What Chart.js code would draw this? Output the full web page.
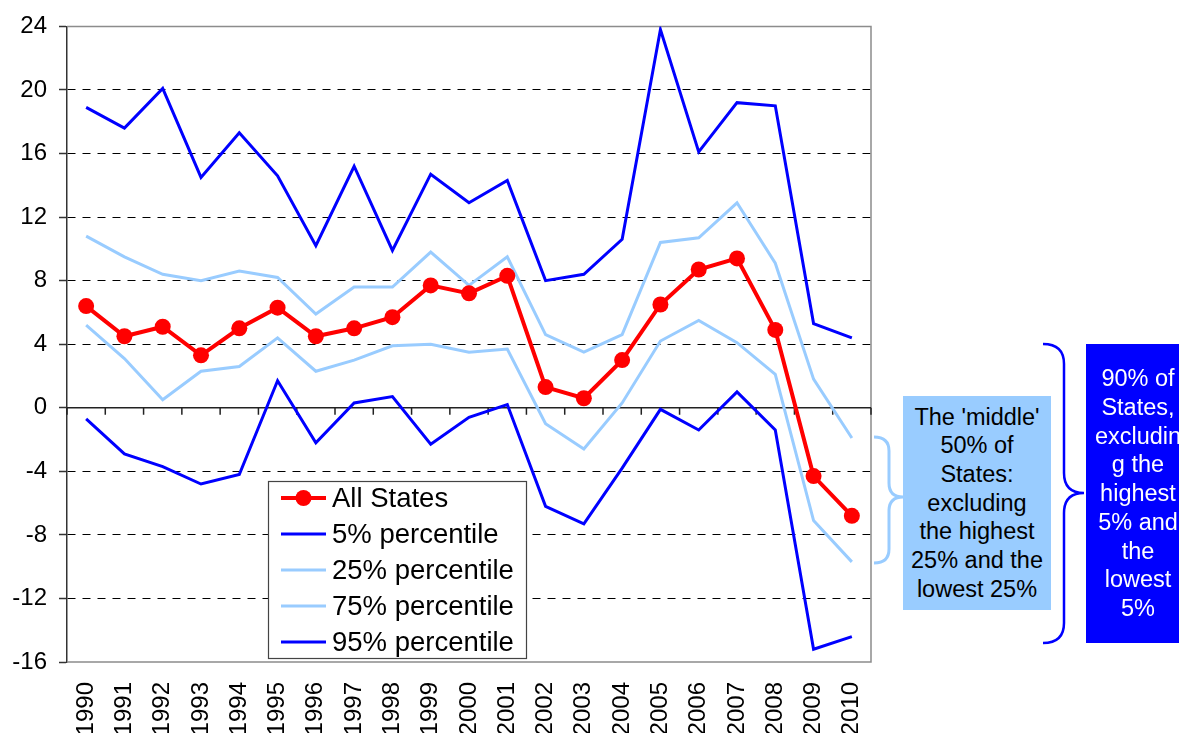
<!DOCTYPE html>
<html>
<head>
<meta charset="utf-8">
<script src="https://cdn.jsdelivr.net/npm/chart.js@4.4.0/dist/chart.umd.min.js"></script>
<style>
html,body{margin:0;padding:0;background:#fff;overflow:hidden;}
#wrap{position:relative;width:1179px;height:733px;overflow:hidden;}
#c{position:absolute;left:0;top:0;}
#braces{position:absolute;left:0;top:0;pointer-events:none;}
.note{position:absolute;display:flex;flex-direction:column;justify-content:center;align-items:center;text-align:center;
  font-family:"Liberation Sans",Arial,sans-serif;font-size:23.5px;line-height:28.7px;white-space:nowrap;overflow:hidden;}
</style>
</head>
<body>
<div id="wrap">
<canvas id="c" width="1179" height="733"></canvas>
<svg id="braces" width="1179" height="733">
  <path d="M874,437 Q889,437 889,451 L889,483 Q889,497 903,497 Q889,497 889,511 L889,549 Q889,563 874,563" fill="none" stroke="#99CCFF" stroke-width="3"/>
  <path d="M1043,344 Q1064,344 1064,364 L1064,473 Q1064,493 1084,493 Q1064,493 1064,513 L1064,623 Q1064,643 1043,643" fill="none" stroke="#0000FF" stroke-width="2.5"/>
</svg>
<div class="note" style="left:903px;top:396px;width:148px;height:214px;background:#99CCFF;color:#000;">
  <div>The 'middle'<br>50% of<br>States:<br>excluding<br>the highest<br>25% and the<br>lowest 25%</div>
</div>
<div class="note" style="left:1086px;top:344px;width:104px;height:299px;background:#0000FF;color:#fff;">
  <div>90% of<br>States,<br>excludin<br>g the<br>highest<br>5% and<br>the<br>lowest<br>5%</div>
</div>
</div>
<script>
const years = ['1990','1991','1992','1993','1994','1995','1996','1997','1998','1999','2000','2001','2002','2003','2004','2005','2006','2007','2008','2009','2010'];
const allStates = [6.4,4.5,5.1,3.3,5.0,6.3,4.5,5.0,5.7,7.7,7.2,8.3,1.3,0.6,3.0,6.5,8.7,9.4,4.9,-4.3,-6.8];
const p5  = [-0.7,-2.9,-3.7,-4.8,-4.2,1.7,-2.2,0.3,0.7,-2.3,-0.6,0.2,-6.2,-7.3,-3.8,-0.1,-1.4,1.0,-1.4,-15.2,-14.4];
const p25 = [5.2,3.1,0.5,2.3,2.6,4.4,2.3,3.0,3.9,4.0,3.5,3.7,-1.0,-2.6,0.3,4.2,5.5,4.1,2.1,-7.1,-9.7];
const p75 = [10.8,9.5,8.4,8.0,8.6,8.2,5.9,7.6,7.6,9.8,7.7,9.5,4.6,3.5,4.6,10.4,10.7,12.9,9.1,1.8,-1.9];
const p95 = [18.9,17.6,20.1,14.5,17.3,14.6,10.2,15.2,9.9,14.7,12.9,14.3,8.0,8.4,10.6,23.8,16.1,19.2,19.0,5.3,4.4];
const seriesLabels = ['All States','5% percentile','25% percentile','75% percentile','95% percentile'];
const yMin = -16, yMax = 24, yStep = 4;

const FONT = '"Liberation Sans", Arial, sans-serif';

const framePlugin = {
  id: 'frame',
  beforeDatasetsDraw(chart) {
    const {ctx, chartArea: a, scales: {x, y}} = chart;
    ctx.save();
    ctx.strokeStyle = '#8c8c8c';
    ctx.lineWidth = 1.5;
    ctx.beginPath();
    ctx.moveTo(a.left, a.top);
    ctx.lineTo(a.right, a.top);
    ctx.lineTo(a.right, a.bottom);
    ctx.lineTo(a.left, a.bottom);
    ctx.stroke();
    const y0 = y.getPixelForValue(0);
    const half = (x.getPixelForValue(1) - x.getPixelForValue(0)) / 2;
    ctx.strokeStyle = '#222';
    ctx.lineWidth = 1.5;
    ctx.beginPath();
    ctx.moveTo(a.left, y0);
    ctx.lineTo(a.right, y0);
    for (let i = 0; i <= years.length; i++) {
      const px = x.getPixelForValue(i) - half;
      ctx.moveTo(px, y0);
      ctx.lineTo(px, y0 + 7);
    }
    ctx.stroke();
    ctx.restore();
  }
};

const legendPlugin = {
  id: 'boxLegend',
  afterDatasetsDraw(chart) {
    const {ctx} = chart;
    const L = 268, T = 481, W = 258, H = 177;
    ctx.save();
    ctx.fillStyle = '#fff';
    ctx.fillRect(L, T, W, H);
    ctx.strokeStyle = '#444';
    ctx.lineWidth = 1.2;
    ctx.strokeRect(L + 0.5, T + 0.5, W, H);
    ctx.font = '27.5px ' + FONT;
    ctx.textBaseline = 'middle';
    chart.data.datasets.forEach((ds, i) => {
      const cy = T + 17 + i * 36;
      ctx.strokeStyle = ds.borderColor;
      ctx.lineWidth = ds.borderWidth;
      ctx.beginPath();
      ctx.moveTo(281, cy);
      ctx.lineTo(326, cy);
      ctx.stroke();
      if (ds.pointRadius > 0) {
        ctx.fillStyle = ds.pointBackgroundColor;
        ctx.beginPath();
        ctx.arc(303.5, cy, ds.pointRadius, 0, Math.PI * 2);
        ctx.fill();
      }
      ctx.fillStyle = '#000';
      ctx.fillText(ds.label, 332, cy + 1);
    });
    ctx.restore();
  }
};

new Chart(document.getElementById('c'), {
  type: 'line',
  data: {
    labels: years,
    datasets: [
      {label: seriesLabels[0], data: allStates, borderColor: '#FF0000', backgroundColor: '#FF0000',
       pointBackgroundColor: '#FF0000', pointBorderColor: '#FF0000', borderWidth: 4, pointRadius: 8, pointBorderWidth: 0, tension: 0},
      {label: seriesLabels[1], data: p5, borderColor: '#0000FF', backgroundColor: '#0000FF', borderWidth: 3, pointRadius: 0, tension: 0},
      {label: seriesLabels[2], data: p25, borderColor: '#99CCFF', backgroundColor: '#99CCFF', borderWidth: 3, pointRadius: 0, tension: 0},
      {label: seriesLabels[3], data: p75, borderColor: '#99CCFF', backgroundColor: '#99CCFF', borderWidth: 3, pointRadius: 0, tension: 0},
      {label: seriesLabels[4], data: p95, borderColor: '#0000FF', backgroundColor: '#0000FF', borderWidth: 3, pointRadius: 0, tension: 0}
    ]
  },
  options: {
    responsive: false,
    animation: false,
    events: [],
    devicePixelRatio: 1,
    layout: {padding: {left: 0, right: 308, top: 25, bottom: 0}},
    plugins: {legend: {display: false}, tooltip: {enabled: false}},
    scales: {
      x: {
        type: 'category',
        offset: true,
        grid: {display: false, drawTicks: false},
        border: {display: false},
        ticks: {autoSkip: false, minRotation: 90, maxRotation: 90, color: '#000', font: {family: FONT, size: 24}, padding: 20},
        afterFit(s) { s.height = 71; }
      },
      y: {
        min: yMin, max: yMax,
        ticks: {stepSize: yStep, color: '#000', font: {family: FONT, size: 24}, padding: 12},
        grid: {
          color: (c) => (c.tick && [yMin, yMax, 0].includes(c.tick.value)) ? 'rgba(0,0,0,0)' : '#000',
          lineWidth: 1, tickLength: 8, tickColor: '#333', tickWidth: 1.5, drawTicks: true
        },
        border: {display: true, color: '#333', width: 1.5, dash: [8, 7]},
        afterFit(s) { s.width = 67; }
      }
    }
  },
  plugins: [framePlugin, legendPlugin]
});
</script>
</body>
</html>
